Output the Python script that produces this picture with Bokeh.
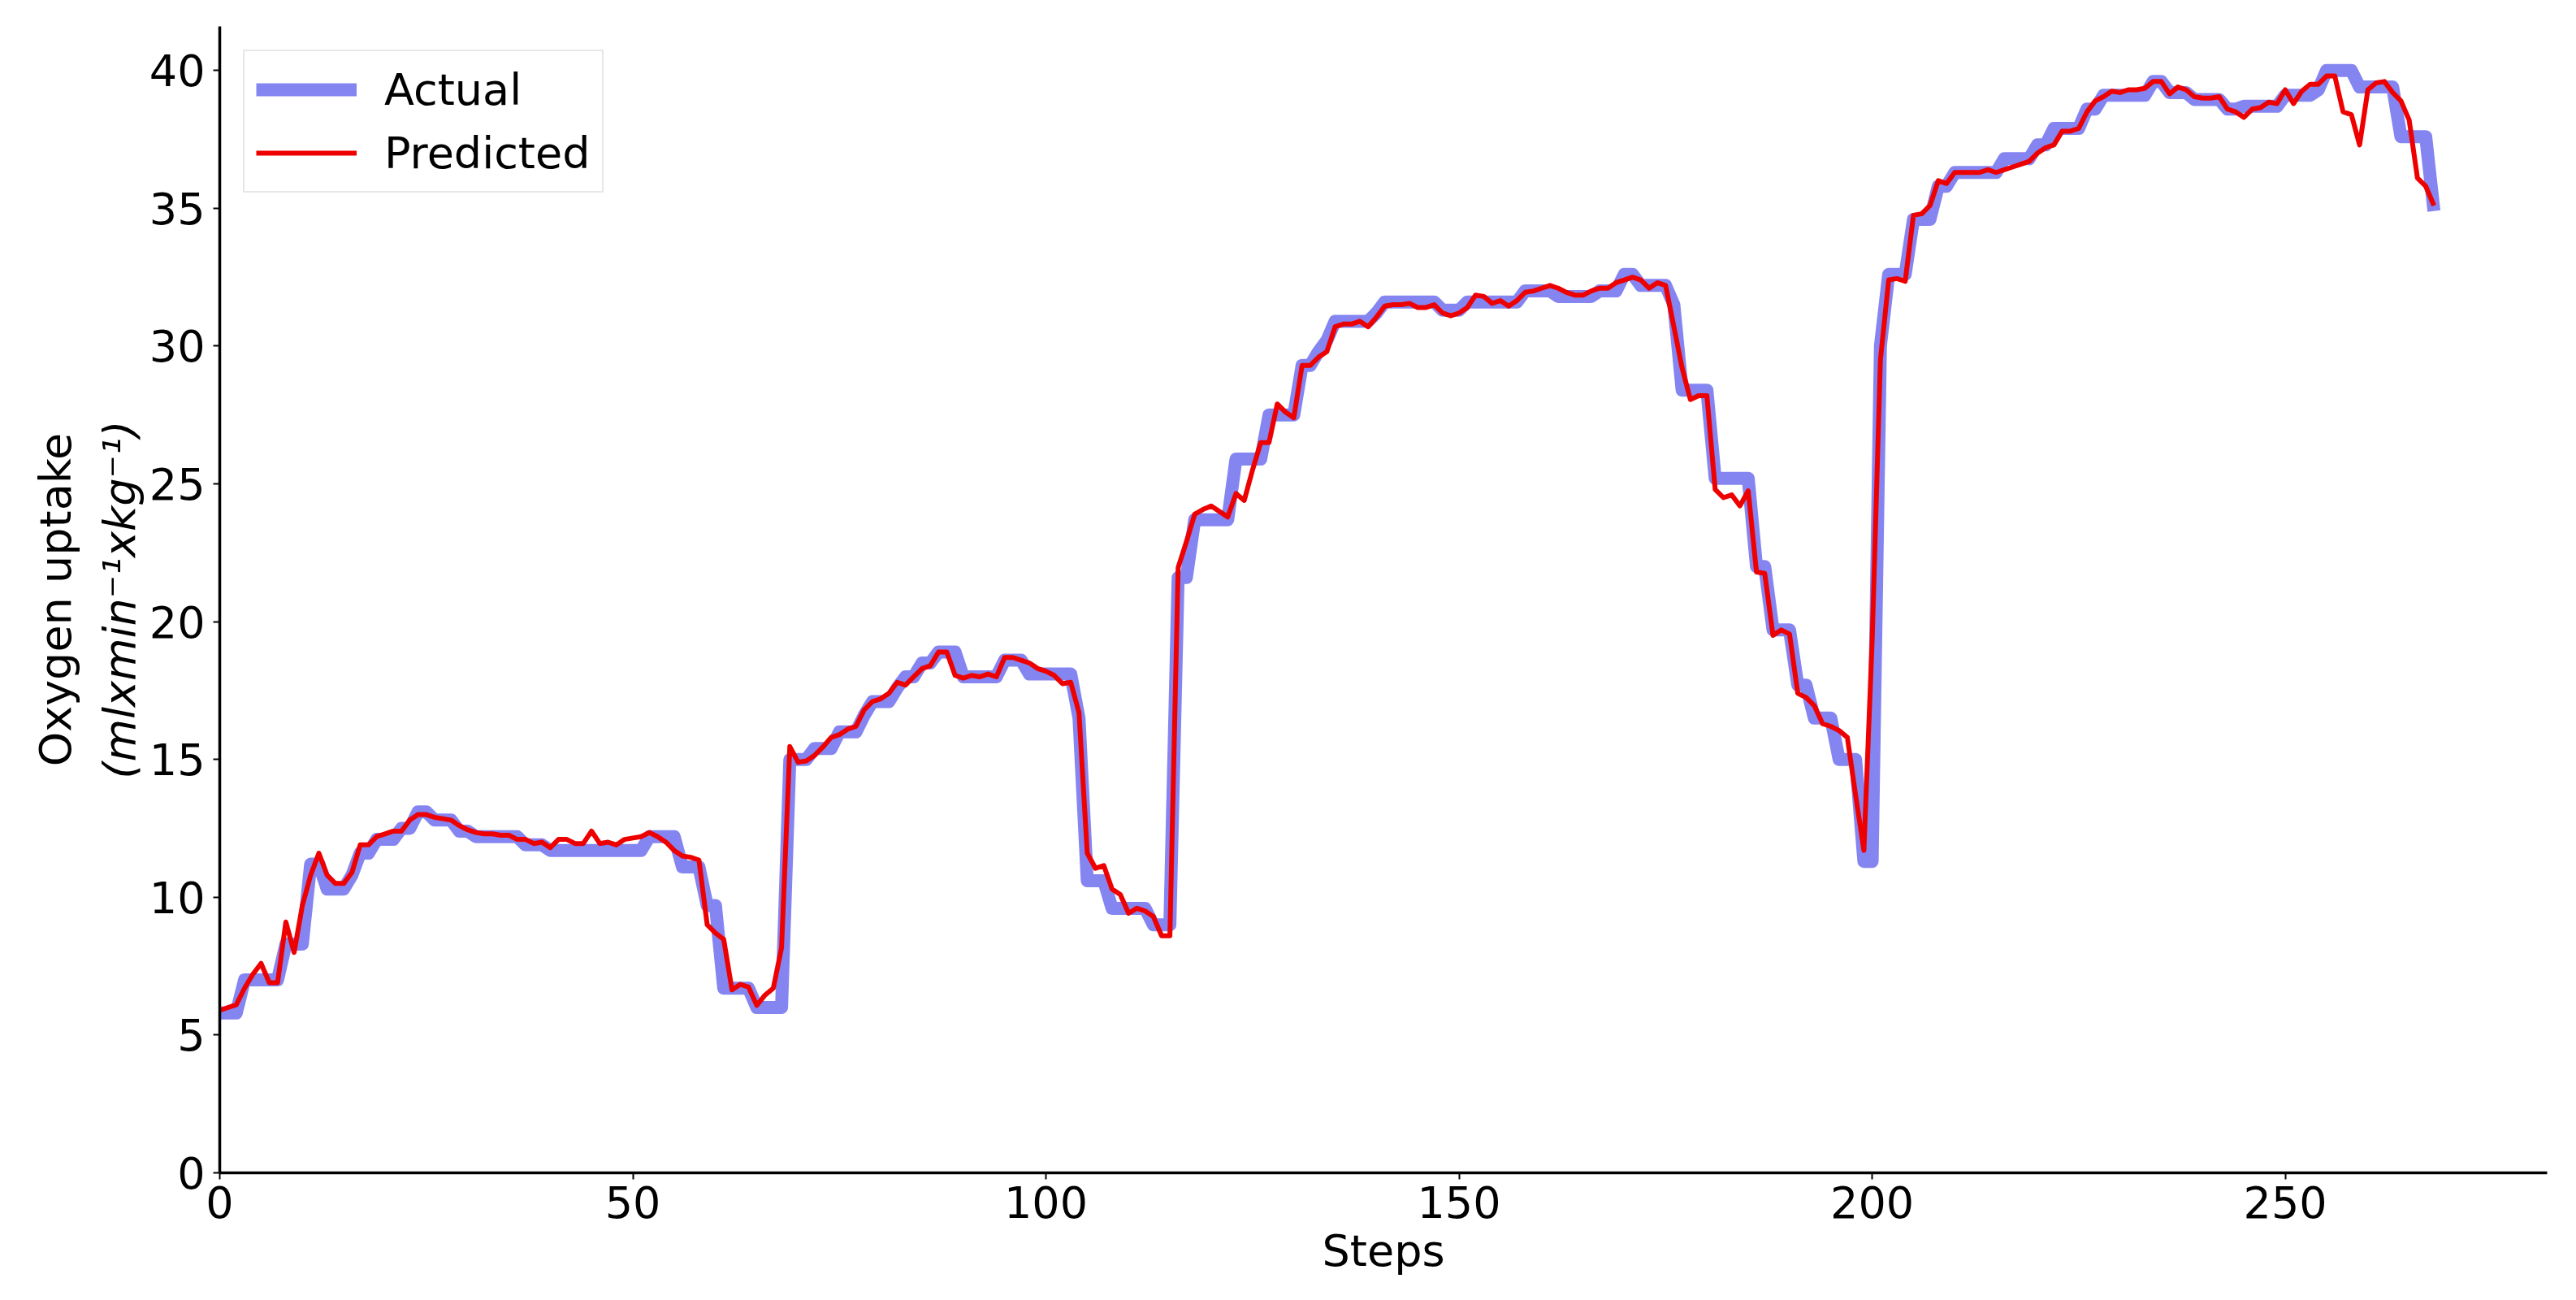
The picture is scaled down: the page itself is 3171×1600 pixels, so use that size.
from bokeh.plotting import figure
from bokeh.models import Range1d, Legend, LegendItem, FixedTicker, LinearAxis
from bokeh.embed import file_html
from bokeh.resources import INLINE

# ---------------- data ----------------
steps = list(range(269))

actual = [
    5.8, 5.8, 5.8, 7.0, 7.0, 7.0, 7.0, 7.0, 8.3, 8.3,
    8.3, 11.2, 11.2, 10.3, 10.3, 10.3, 10.8, 11.6, 11.6, 12.1,
    12.1, 12.1, 12.5, 12.5, 13.1, 13.1, 12.8, 12.8, 12.8, 12.4,
    12.4, 12.2, 12.2, 12.2, 12.2, 12.2, 12.2, 11.9, 11.9, 11.9,
    11.7, 11.7, 11.7, 11.7, 11.7, 11.7, 11.7, 11.7, 11.7, 11.7,
    11.7, 11.7, 12.2, 12.2, 12.2, 12.2, 11.1, 11.1, 11.1, 9.7,
    9.7, 6.7, 6.7, 6.7, 6.7, 6.0, 6.0, 6.0, 6.0, 15.0,
    15.0, 15.0, 15.4, 15.4, 15.4, 16.0, 16.0, 16.0, 16.6, 17.1,
    17.1, 17.1, 17.6, 18.0, 18.0, 18.5, 18.5, 18.9, 18.9, 18.9,
    18.0, 18.0, 18.0, 18.0, 18.0, 18.6, 18.6, 18.6, 18.1, 18.1,
    18.1, 18.1, 18.1, 18.1, 16.5, 10.6, 10.6, 10.6, 9.6, 9.6,
    9.6, 9.6, 9.6, 9.0, 9.0, 9.0, 21.6, 21.6, 23.7, 23.7,
    23.7, 23.7, 23.7, 25.9, 25.9, 25.9, 25.9, 27.5, 27.5, 27.5,
    27.5, 29.3, 29.3, 29.8, 30.2, 30.9, 30.9, 30.9, 30.9, 30.9,
    31.2, 31.6, 31.6, 31.6, 31.6, 31.6, 31.6, 31.6, 31.3, 31.3,
    31.3, 31.6, 31.6, 31.6, 31.6, 31.6, 31.6, 31.6, 32.0, 32.0,
    32.0, 32.0, 31.8, 31.8, 31.8, 31.8, 31.8, 32.0, 32.0, 32.0,
    32.6, 32.6, 32.2, 32.2, 32.2, 32.2, 31.5, 28.4, 28.4, 28.4,
    28.4, 25.2, 25.2, 25.2, 25.2, 25.2, 22.0, 22.0, 19.7, 19.7,
    19.7, 17.7, 17.7, 16.5, 16.5, 16.5, 15.0, 15.0, 15.0, 11.3,
    11.3, 30.0, 32.6, 32.6, 32.6, 34.6, 34.6, 34.6, 35.8, 35.8,
    36.3, 36.3, 36.3, 36.3, 36.3, 36.3, 36.8, 36.8, 36.8, 36.8,
    37.3, 37.3, 37.9, 37.9, 37.9, 37.9, 38.6, 38.6, 39.1, 39.1,
    39.1, 39.1, 39.1, 39.1, 39.6, 39.6, 39.2, 39.2, 39.2, 38.95,
    38.95, 38.95, 38.95, 38.6, 38.6, 38.7, 38.7, 38.7, 38.7, 38.7,
    39.1, 39.1, 39.1, 39.1, 39.3, 40.0, 40.0, 40.0, 40.0, 39.4,
    39.4, 39.4, 39.4, 39.4, 37.6, 37.6, 37.6, 37.6, 34.9,
]

predicted = [
    5.9, 6.0, 6.1, 6.7, 7.2, 7.6, 6.9, 6.9, 9.1, 8.0,
    9.7, 10.8, 11.6, 10.8, 10.5, 10.5, 10.9, 11.9, 11.9, 12.2,
    12.3, 12.4, 12.4, 12.8, 13.0, 13.0, 12.9, 12.85, 12.8, 12.6,
    12.45, 12.35, 12.3, 12.3, 12.25, 12.25, 12.1, 12.1, 11.95, 12.0,
    11.8, 12.1, 12.1, 11.95, 11.95, 12.4, 11.95, 12.0, 11.9, 12.1,
    12.15, 12.2, 12.35, 12.2, 12.0, 11.7, 11.5, 11.45, 11.35, 9.0,
    8.7, 8.47, 6.64, 6.84, 6.74, 6.08, 6.45, 6.7, 8.17, 15.47,
    14.9, 14.95, 15.15, 15.45, 15.8, 15.9, 16.1, 16.2, 16.8, 17.1,
    17.2, 17.4, 17.8, 17.7, 18.0, 18.3, 18.4, 18.9, 18.9, 18.05,
    17.95, 18.05, 18.0, 18.1, 18.0, 18.7, 18.7, 18.6, 18.5, 18.3,
    18.2, 18.05, 17.75, 17.8, 16.7, 11.6, 11.05, 11.15, 10.3, 10.1,
    9.42, 9.6, 9.5, 9.3, 8.6, 8.6, 21.96, 22.9, 23.9, 24.07,
    24.2, 24.0, 23.8, 24.65, 24.4, 25.5, 26.5, 26.5, 27.9, 27.6,
    27.4, 29.3, 29.3, 29.6, 29.8, 30.7, 30.8, 30.8, 30.9, 30.7,
    31.05, 31.45, 31.5, 31.5, 31.55, 31.4, 31.4, 31.5, 31.2, 31.1,
    31.2, 31.4, 31.85, 31.8, 31.55, 31.65, 31.45, 31.65, 31.95, 32.0,
    32.1, 32.2, 32.1, 31.95, 31.85, 31.85, 32.0, 32.1, 32.1, 32.3,
    32.4, 32.5, 32.4, 32.1, 32.3, 32.2, 30.7, 29.2, 28.06, 28.2,
    28.2, 24.8, 24.5, 24.6, 24.2, 24.75, 21.8, 21.75, 19.5, 19.7,
    19.55, 17.4, 17.25, 16.95, 16.3, 16.2, 16.05, 15.8, 13.7, 11.7,
    19.3, 29.5, 32.4, 32.45, 32.35, 34.75, 34.8, 35.1, 36.0, 35.9,
    36.3, 36.3, 36.3, 36.3, 36.4, 36.3, 36.4, 36.5, 36.6, 36.7,
    37.0, 37.2, 37.3, 37.8, 37.8, 37.9, 38.5, 38.9, 39.05, 39.25,
    39.2, 39.3, 39.3, 39.35, 39.6, 39.6, 39.15, 39.4, 39.3, 39.05,
    39.0, 39.0, 39.05, 38.6, 38.5, 38.3, 38.6, 38.65, 38.85, 38.8,
    39.3, 38.8, 39.25, 39.5, 39.5, 39.8, 39.8, 38.5, 38.4, 37.3,
    39.3, 39.55, 39.6, 39.2, 38.9, 38.2, 36.1, 35.8, 35.1,
]

x_ticks = [0, 50, 100, 150, 200, 250]
y_ticks = [0, 5, 10, 15, 20, 25, 30, 35, 40]
x_label = "Steps"
y_label_1 = "Oxygen uptake"
y_label_2 = "(mlxmin\u207b\u00b9xkg\u207b\u00b9)"
series_names = ["Actual", "Predicted"]

FONT = "DejaVu Sans"
FS = "54px"

# ---------------- figure ----------------
W, H = 3163, 1592
BL, BR, BT, BB = 270, 28, 32, 149

p = figure(width=W, height=H, output_backend="svg", toolbar_location=None,
           x_range=Range1d(0, 281.7), y_range=Range1d(0, 41.6),
           min_border_left=BL, min_border_right=BR,
           min_border_top=BT, min_border_bottom=BB)
p.outline_line_color = None
p.xgrid.visible = False
p.ygrid.visible = False
p.background_fill_color = "white"
p.border_fill_color = "white"

r_act = p.line(steps, actual, line_width=16, line_color="#8585f2",
               line_join="round", line_cap="butt")
r_pred = p.line(steps, predicted, line_width=6, line_color="#ee0000",
                line_join="round", line_cap="butt")

for ax in (p.xaxis[0], p.yaxis[0]):
    ax.axis_line_width = 3.5
    ax.axis_line_color = "black"
    ax.major_tick_line_width = 2
    ax.major_tick_line_color = "black"
    ax.major_tick_out = 8
    ax.major_tick_in = 0
    ax.minor_tick_out = 0
    ax.minor_tick_in = 0
    ax.major_label_text_font = FONT
    ax.major_label_text_font_size = FS
    ax.major_label_text_color = "black"
    ax.axis_label_text_font = FONT
    ax.axis_label_text_font_size = FS
    ax.axis_label_text_color = "black"

p.xaxis.ticker = FixedTicker(ticks=x_ticks)
p.yaxis.ticker = FixedTicker(ticks=y_ticks)
p.xaxis.major_label_standoff = 8
p.yaxis.major_label_standoff = 10

p.xaxis.axis_label = x_label
p.xaxis.axis_label_text_font_style = "normal"
p.xaxis.axis_label_standoff = 6

# inner y label line (italic units)
p.yaxis.axis_label = y_label_2
p.yaxis.axis_label_text_font_style = "italic"
p.yaxis.axis_label_standoff = 2

# outer y label line on an extra, otherwise invisible axis
outer = LinearAxis(ticker=FixedTicker(ticks=[]), axis_label=y_label_1,
                   axis_line_color=None, major_tick_out=0, major_tick_in=0,
                   minor_tick_out=0, minor_tick_in=0,
                   major_label_standoff=0,
                   axis_label_text_font=FONT, axis_label_text_font_size=FS,
                   axis_label_text_font_style="normal",
                   axis_label_text_color="black", axis_label_standoff=13)
p.add_layout(outer, "left")

legend = Legend(items=[LegendItem(label=series_names[0], renderers=[r_act]),
                       LegendItem(label=series_names[1], renderers=[r_pred])],
                location="top_left", margin=29, padding=14, spacing=12,
                glyph_width=124, glyph_height=66, label_height=66,
                label_standoff=34, label_text_font=FONT,
                label_text_font_size=FS, label_text_color="black",
                border_line_color="#d0d0d0", border_line_width=2,
                background_fill_color="white", background_fill_alpha=1.0)
p.add_layout(legend)

open("out.html", "w").write(file_html(p, INLINE))
